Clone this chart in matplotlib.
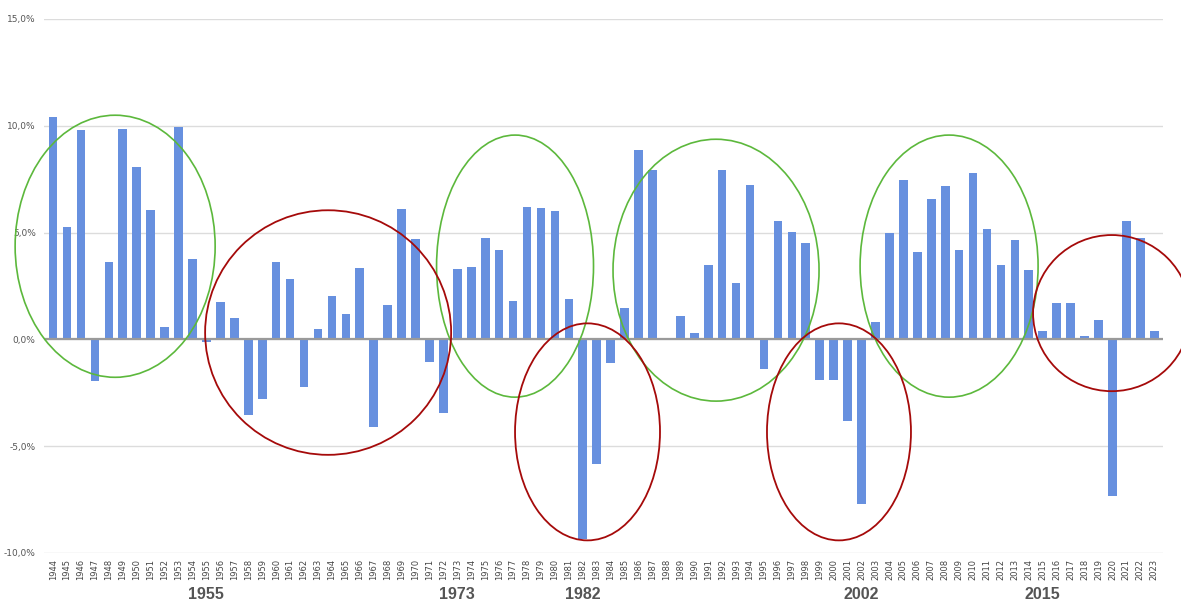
import matplotlib
matplotlib.use('Agg')
import matplotlib.pyplot as plt
from matplotlib.patches import Ellipse
from matplotlib.ticker import FuncFormatter

years = list(range(1944, 2024))
growth = [10.4, 5.25, 9.8, -1.95, 3.6, 9.85, 8.05, 6.05, 0.6, 9.95,
          3.75, -0.1, 1.75, 1.0, -3.55, -2.8, 3.6, 2.85, -2.25, 0.5,
          2.05, 1.2, 3.35, -4.1, 1.6, 6.1, 4.7, -1.05, -3.45, 3.3,
          3.4, 4.75, 4.2, 1.8, 6.2, 6.15, 6.0, 1.9, -9.35, -5.85,
          -1.1, 1.45, 8.85, 7.95, 0.0, 1.1, 0.3, 3.5, 7.95, 2.65,
          7.25, -1.4, 5.55, 5.05, 4.5, -1.9, -1.9, -3.8, -7.7, 0.8,
          5.0, 7.45, 4.1, 6.55, 7.2, 4.2, 7.8, 5.15, 3.5, 4.65,
          3.25, 0.4, 1.7, 1.7, 0.15, 0.9, -7.35, 5.55, 4.75, 0.4]

marked_years = [1955, 1973, 1982, 2002, 2015]

# (centre year, centre %, width in years, height in %)
green_circles = [(1948.45, 4.36, 14.35, 12.27),
                 (1977.14, 3.43, 11.26, 12.27),
                 (1991.56, 3.24, 14.78, 12.26),
                 (2008.28, 3.43, 12.77, 12.27)]
red_circles = [(1963.73, 0.32, 17.65, 11.45),
               (1982.34, -4.33, 10.4, 10.16),
               (2000.38, -4.33, 10.33, 10.16),
               (2019.95, 1.23, 11.29, 7.31)]

fig = plt.figure(figsize=(11.81, 6.01), dpi=100)
ax = fig.add_axes([0.0373, 0.0799, 0.9475, 0.8885])

ax.bar(years, growth, width=0.62, color='#6790df', zorder=3)
ax.axhline(0, color='#9a9a9a', linewidth=1.6, zorder=4)

ax.set_xlim(1943.35, 2023.63)
ax.set_ylim(-10, 15)
ax.set_yticks([-10, -5, 0, 5, 10, 15])
ax.yaxis.set_major_formatter(FuncFormatter(lambda v, p: f'{v:.1f}%'.replace('.', ',')))
ax.set_xticks(years)
ax.set_xticklabels([str(y) for y in years], rotation=90, fontsize=6, color='#444444')
ax.tick_params(axis='y', labelsize=6.5, labelcolor='#555555', length=0, pad=6)
ax.tick_params(axis='x', length=0, pad=4)
ax.grid(axis='y', color='#dcdcdc', linewidth=1.0, zorder=0)
for s in ax.spines.values():
    s.set_visible(False)

for cx, cy, w, h in green_circles:
    ax.add_patch(Ellipse((cx, cy), w, h, fill=False, edgecolor='#5cb83c',
                         linewidth=1.2, zorder=5, clip_on=False))
for cx, cy, w, h in red_circles:
    ax.add_patch(Ellipse((cx, cy), w, h, fill=False, edgecolor='#a50a0a',
                         linewidth=1.3, zorder=5, clip_on=False))

for y in marked_years:
    ax.text(y, -0.064, str(y), transform=ax.get_xaxis_transform(), ha='center', va='top',
            fontsize=11.5, fontweight='bold', color='#555555', family='Liberation Sans')

fig.savefig('out.png', dpi=100)
